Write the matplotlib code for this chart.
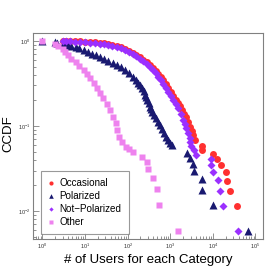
import matplotlib
matplotlib.use("Agg")
import matplotlib.pyplot as plt
from matplotlib.ticker import LogLocator, NullFormatter

plt.rcParams['font.family'] = ['Liberation Sans', 'DejaVu Sans']

# Occasional
occ_x = [3, 3.66, 4.5, 5.95, 7.8, 10.2, 13.4, 17.5, 23, 28.5, 35.4, 44, 57.7, 71.5, 88.8,
         110, 137, 161, 200, 235, 292, 343, 403, 461, 528, 605, 692, 793, 907, 1038,
         1188, 1361, 1556, 1735, 1932, 2153, 2400, 2673, 2980, 3230, 3506, 3900,
         5700, 5700, 9800, 12800, 15900, 20800, 22000, 25900, 37800]
occ_y = [1.0, 0.995, 0.99, 0.99, 0.99, 0.985, 0.97, 0.96, 0.95, 0.935, 0.92, 0.90, 0.87,
         0.84, 0.81, 0.76, 0.72, 0.685, 0.65, 0.605, 0.566, 0.52, 0.48, 0.444, 0.41,
         0.377, 0.348, 0.312, 0.28, 0.251, 0.225, 0.205, 0.187, 0.17, 0.154, 0.14, 0.128,
         0.112, 0.098, 0.087, 0.078, 0.068,
         0.058, 0.052, 0.047, 0.041, 0.035, 0.029, 0.0226, 0.0173, 0.0115]

# Polarized
pol_x = [1, 2, 2.19, 3, 3.2, 4, 4.8, 6, 7.4, 9.2, 11.7, 14.9, 18.5, 23, 28.5, 35.4, 45,
         57.7, 71.5, 88.8, 110, 137, 157, 179, 200, 222, 241, 262, 276, 292, 316, 343,
         362, 382, 426, 474, 528, 589, 656, 731, 815, 907, 1012, 1127,
         2535, 2980, 3506, 3700, 5700, 5700, 10330, 68500]
pol_y = [1.0, 0.97, 0.95, 0.92, 0.91, 0.90, 0.87, 0.85, 0.816, 0.78, 0.742, 0.70, 0.675,
         0.65, 0.614, 0.58, 0.551, 0.52, 0.488, 0.456, 0.415, 0.377, 0.348, 0.32, 0.30,
         0.28, 0.255, 0.232, 0.217, 0.202, 0.184, 0.167, 0.157, 0.146, 0.135, 0.124,
         0.113, 0.103, 0.092, 0.083, 0.075, 0.068, 0.064, 0.060,
         0.048, 0.042, 0.0357, 0.0296, 0.0238, 0.0177, 0.0118, 0.0058]

# Not-Polarized
np_x = [3, 3.66, 4.5, 5.95, 7.8, 10.2, 13.4, 17.5, 23, 28.5, 35.4, 44, 57.7, 71.5, 88.8,
        110, 137, 161, 200, 235, 292, 343, 403, 461, 528, 605, 692, 793, 907, 1038,
        1188, 1361, 1556, 1783, 2040, 2214, 2400, 2673, 2980, 2980, 3130, 3700, 4120,
        9200, 9200, 9800, 13500, 15000, 17500, 39700]
np_y = [1.0, 0.99, 0.99, 0.985, 0.97, 0.96, 0.95, 0.935, 0.92, 0.91, 0.90, 0.875, 0.85,
        0.816, 0.78, 0.742, 0.70, 0.657, 0.61, 0.574, 0.536, 0.495, 0.456, 0.415, 0.377,
        0.343, 0.312, 0.28, 0.251, 0.225, 0.202, 0.182, 0.163, 0.139, 0.118, 0.106,
        0.095, 0.083, 0.072, 0.065, 0.058, 0.052, 0.0457,
        0.041, 0.035, 0.029, 0.0233, 0.0173, 0.0115, 0.0058]

# Other
oth_x = [1, 2, 2.31, 3, 3.3, 4, 4.8, 6, 7.4, 9.2, 11, 13.4, 16.2, 19.5, 23, 27, 32.5, 39.5,
         45, 52, 55.5, 61, 73, 89, 107, 130, 222, 292, 308, 403, 500, 557, 1550]
oth_y = [1.0, 0.92, 0.862, 0.805, 0.75, 0.685, 0.62, 0.566, 0.508, 0.456, 0.409, 0.367,
         0.32, 0.28, 0.245, 0.213, 0.182, 0.154, 0.129, 0.108, 0.09, 0.074, 0.065,
         0.0566, 0.053, 0.049, 0.043, 0.0377, 0.0312, 0.0244, 0.018, 0.0118, 0.0058]

fig = plt.figure(figsize=(2.8, 2.8), dpi=100)
ax = fig.add_axes([33/280, 41/280, 230/280, 206/280])

ax.plot(occ_x, occ_y, 'o', color='#ff3030', ms=5, mec='none', label='Occasional')
ax.plot(pol_x, pol_y, '^', color='#191970', ms=5.5, mec='none', label='Polarized')
ax.plot(np_x, np_y, 'D', color='#9b30ff', ms=3.6, mec='none', label='Not\u2212Polarized')
ax.plot(oth_x, oth_y, 's', color='#ee82ee', ms=5, mec='none', label='Other')

ax.set_xscale('log')
ax.set_yscale('log')
ax.set_xlim(0.6, 1.5e5)
ax.set_ylim(0.0047, 1.24)

for s in ['left', 'bottom', 'top', 'right']:
    ax.spines[s].set_color('#808080')
    ax.spines[s].set_linewidth(0.8)

ax.xaxis.set_major_locator(LogLocator(base=10, numticks=10))
ax.xaxis.set_minor_locator(LogLocator(base=10, subs=range(2, 10), numticks=10))
ax.yaxis.set_minor_locator(LogLocator(base=10, subs=range(2, 10), numticks=10))
ax.xaxis.set_minor_formatter(NullFormatter())
ax.yaxis.set_minor_formatter(NullFormatter())
ax.tick_params(which='both', direction='in', top=False, right=False, colors='#808080',
               labelcolor='#333333', labelsize=4, width=0.6)
ax.tick_params(which='major', length=4, pad=2)
ax.tick_params(which='minor', length=2)

ax.set_xlabel('# of Users for each Category', fontsize=9.5, labelpad=2)
ax.set_ylabel('CCDF', fontsize=9.5)
ax.yaxis.set_label_coords(-0.08, 0.51)

leg = ax.legend(loc='lower left', bbox_to_anchor=(8/230, 5/206), borderaxespad=0,
                fontsize=7.1, markerscale=0.6, handlelength=0.7, handletextpad=0.5,
                labelspacing=0.3, borderpad=0.7, fancybox=False, frameon=True)
leg.get_frame().set_edgecolor('#808080')
leg.get_frame().set_linewidth(0.8)

fig.savefig('out.png', dpi=100)
